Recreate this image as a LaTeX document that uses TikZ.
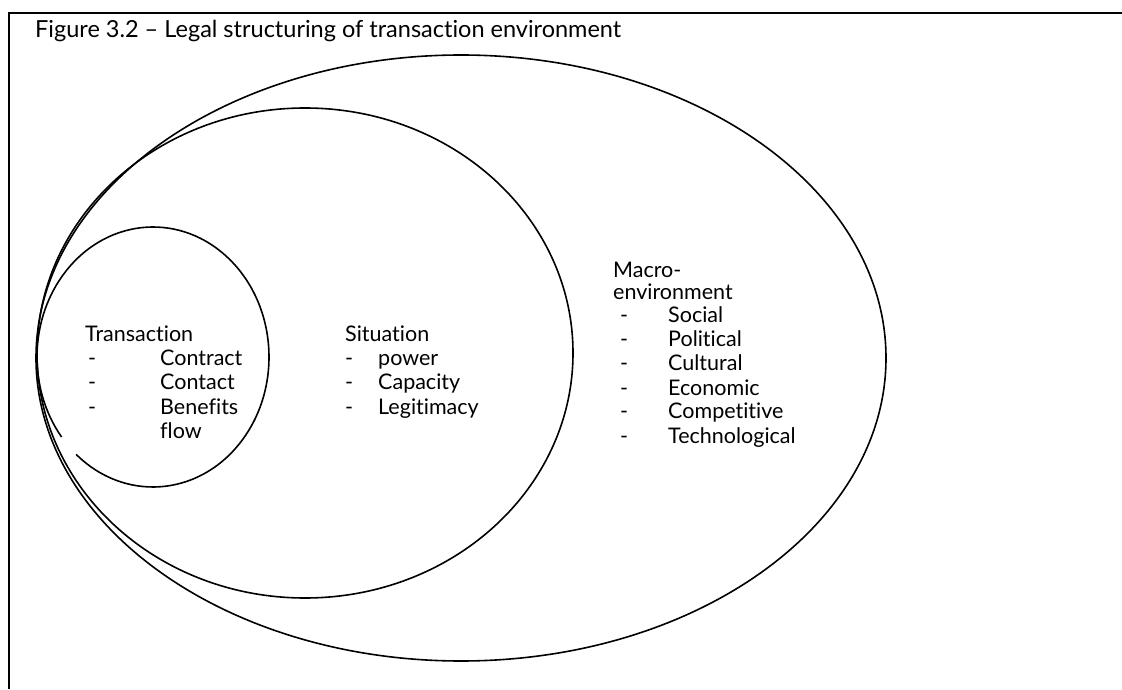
\documentclass[tikz,border=0pt]{standalone}
\usepackage{fontspec}
\setmainfont{Lato}[Ligatures=NoCommon]
\begin{document}
\begin{tikzpicture}[x=1pt,y=1pt,
  ring/.style={line width=1.6pt},
  framestyle/.style={line width=1.4pt},
  lbl/.style={anchor=base west,inner sep=0pt,font=\fontsize{21.5}{25}\selectfont},
  ttl/.style={anchor=base west,inner sep=0pt,font=\fontsize{23.5}{28}\selectfont}]
\useasboundingbox (0,0) rectangle (1122,689);
% frame
\coordinate (fb) at (9,0);
\coordinate (ftl) at (9,676);
\coordinate (fr) at (1122,676);
\draw[framestyle] (fb) -- (ftl) -- (fr);
\node[ttl] (title) at (35,651) {Figure 3.2 -- Legal structuring of transaction environment};
% ellipses
\draw[ring] (461,331) ellipse [x radius=425pt, y radius=303pt];
\draw[ring] (305,336) ellipse [x radius=268pt, y radius=245pt];
\draw[ring] (153,332) ++(228.5:116pt and 130pt) arc[start angle=228.5, end angle=578, x radius=116pt, y radius=130pt];
% transaction
\node[lbl] (t0) at (85,347) {Transaction};
\node[lbl] (t1d) at (88,323) {-};
\node[lbl] (t1) at (160,323) {Contract};
\node[lbl] (t2d) at (88,299) {-};
\node[lbl] (t2) at (160,299) {Contact};
\node[lbl] (t3d) at (88,275) {-};
\node[lbl] (t3) at (160,275) {Benefits};
\node[lbl] (t4) at (160,251) {flow};
% situation
\node[lbl] (s0) at (345,347) {Situation};
\node[lbl] (s1d) at (345,323) {-};
\node[lbl] (s1) at (378,323) {power};
\node[lbl] (s2d) at (345,299) {-};
\node[lbl] (s2) at (378,299) {Capacity};
\node[lbl] (s3d) at (345,275) {-};
\node[lbl] (s3) at (378,275) {Legitimacy};
% macro
\node[lbl] (m0) at (613,411) {Macro-};
\node[lbl] (m0b) at (613,389) {environment};
\node[lbl] (m1d) at (620,366) {-};
\node[lbl] (m1) at (668,366) {Social};
\node[lbl] (m2d) at (620,342) {-};
\node[lbl] (m2) at (668,342) {Political};
\node[lbl] (m3d) at (620,318) {-};
\node[lbl] (m3) at (668,318) {Cultural};
\node[lbl] (m4d) at (620,294) {-};
\node[lbl] (m4) at (668,294) {Economic};
\node[lbl] (m5d) at (620,270) {-};
\node[lbl] (m5) at (668,270) {Competitive};
\node[lbl] (m6d) at (620,246) {-};
\node[lbl] (m6) at (668,246) {Technological};
\end{tikzpicture}
\end{document}
